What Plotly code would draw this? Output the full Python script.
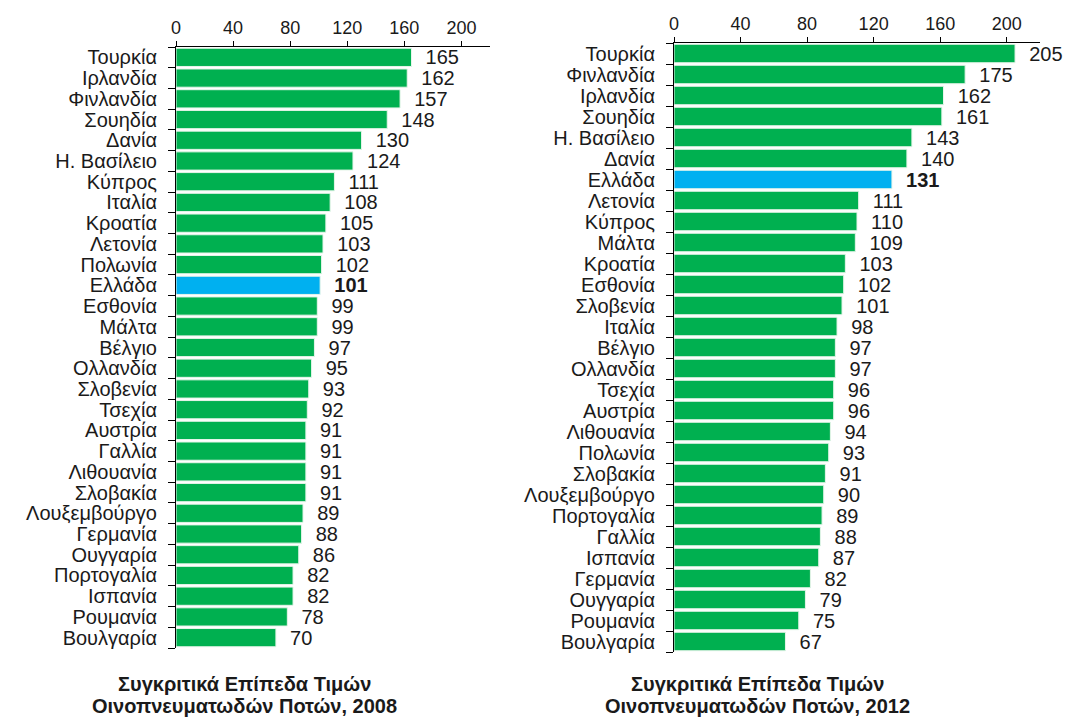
import plotly.graph_objects as go
from plotly.subplots import make_subplots

countries_2008 = ["Τουρκία", "Ιρλανδία", "Φινλανδία", "Σουηδία", "Δανία", "Η. Βασίλειο",
                  "Κύπρος", "Ιταλία", "Κροατία", "Λετονία", "Πολωνία", "Ελλάδα", "Εσθονία",
                  "Μάλτα", "Βέλγιο", "Ολλανδία", "Σλοβενία", "Τσεχία", "Αυστρία", "Γαλλία",
                  "Λιθουανία", "Σλοβακία", "Λουξεμβούργο", "Γερμανία", "Ουγγαρία",
                  "Πορτογαλία", "Ισπανία", "Ρουμανία", "Βουλγαρία"]
values_2008 = [165, 162, 157, 148, 130, 124, 111, 108, 105, 103, 102, 101, 99, 99, 97, 95,
               93, 92, 91, 91, 91, 91, 89, 88, 86, 82, 82, 78, 70]

countries_2012 = ["Τουρκία", "Φινλανδία", "Ιρλανδία", "Σουηδία", "Η. Βασίλειο", "Δανία",
                  "Ελλάδα", "Λετονία", "Κύπρος", "Μάλτα", "Κροατία", "Εσθονία", "Σλοβενία",
                  "Ιταλία", "Βέλγιο", "Ολλανδία", "Τσεχία", "Αυστρία", "Λιθουανία", "Πολωνία",
                  "Σλοβακία", "Λουξεμβούργο", "Πορτογαλία", "Γαλλία", "Ισπανία", "Γερμανία",
                  "Ουγγαρία", "Ρουμανία", "Βουλγαρία"]
values_2012 = [205, 175, 162, 161, 143, 140, 131, 111, 110, 109, 103, 102, 101, 98, 97, 97,
               96, 96, 94, 93, 91, 90, 89, 88, 87, 82, 79, 75, 67]

title_lines = ["Συγκριτικά Επίπεδα Τιμών", "Οινοπνευματωδών Ποτών, 2008",
               "Οινοπνευματωδών Ποτών, 2012"]

GREEN = "#00B050"
BLUE = "#00B0F0"
FONT = "Liberation Sans, Arial, sans-serif"
W, H = 1066, 717

fig = make_subplots(rows=1, cols=2)

for i, (cats, vals) in enumerate([(countries_2008, values_2008), (countries_2012, values_2012)]):
    n = len(cats)
    pos = list(range(n))
    colors = [BLUE if c == "Ελλάδα" else GREEN for c in cats]
    labels = ["  <b>%d</b>" % v if c == "Ελλάδα" else "  %d" % v for c, v in zip(cats, vals)]
    fig.add_trace(go.Bar(x=vals, y=pos, orientation="h", marker_color=colors,
                         marker_line_color="#e6f5ea", marker_line_width=1,
                         text=labels, textposition="outside", cliponaxis=False,
                         constraintext="none",
                         textfont=dict(size=20, color="#1a1a1a", family=FONT),
                         showlegend=False), row=1, col=i + 1)
    # labels at category centres, tick marks on the boundaries between them
    fig.update_yaxes(range=[n - 0.5, -0.5], tickmode="array", tickvals=pos, ticktext=cats,
                     minor=dict(tickmode="array", tickvals=[k - 0.5 for k in range(n + 1)],
                                ticks="outside", ticklen=7, tickcolor="black", tickwidth=1,
                                showgrid=False),
                     row=1, col=i + 1)

axis_common = dict(range=[0, 220], tickvals=[0, 40, 80, 120, 160, 200], side="top",
                   showline=True, linecolor="black", linewidth=1, ticks="outside",
                   ticklen=5, tickcolor="black", showgrid=False, zeroline=False,
                   automargin=False,
                   tickfont=dict(size=18, color="#1a1a1a", family=FONT))
yaxis_common = dict(showline=True, linecolor="black", linewidth=1,
                    ticks="outside", ticklen=7, tickcolor="rgba(0,0,0,0)",
                    showgrid=False, zeroline=False, automargin=False,
                    ticklabelstandoff=7,
                    tickfont=dict(size=20, color="#1a1a1a", family=FONT))

fig.update_layout(
    xaxis=dict(domain=[176 / W, 490 / W], **axis_common),
    xaxis2=dict(domain=[674 / W, 1040 / W], **axis_common),
    bargap=0.12, width=W, height=H,
    margin=dict(l=0, r=0, t=0, b=0),
    plot_bgcolor="white", paper_bgcolor="white",
)
fig.update_yaxes(**yaxis_common)
fig.update_layout(yaxis_domain=[1 - 648 / H, 1 - 47 / H],
                  yaxis2_domain=[1 - 652 / H, 1 - 43 / H])

# two title lines under each panel
for x, year_line in zip([245 / W, 757 / W], title_lines[1:]):
    for y, txt in zip([684, 706], [title_lines[0], year_line]):
        fig.add_annotation(x=x, y=1 - y / H, xref="paper", yref="paper",
                           text="<b>%s</b>" % txt, showarrow=False,
                           xanchor="center", yanchor="middle",
                           font=dict(size=20, color="#1a1a1a", family=FONT))

fig.write_html("out.html", config={"displayModeBar": False},
               post_script="document.body.style.margin='0px';")
